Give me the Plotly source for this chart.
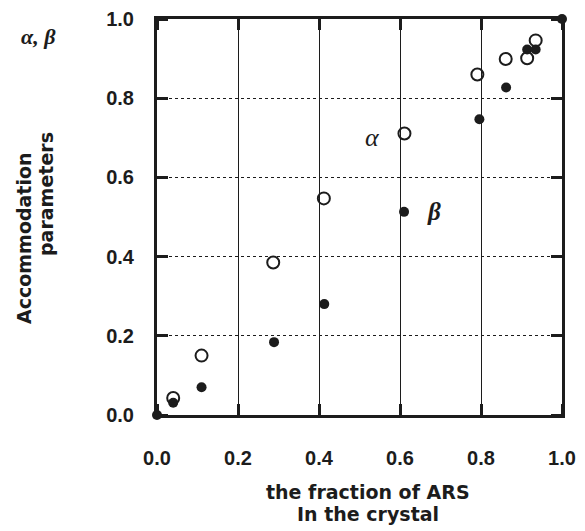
import plotly.graph_objects as go

# Data
x_alpha = [0.040, 0.110, 0.287, 0.412, 0.611, 0.791, 0.861, 0.914, 0.935]
alpha = [0.043, 0.150, 0.385, 0.547, 0.711, 0.860, 0.899, 0.901, 0.946]
x_beta = [0.0, 0.040, 0.110, 0.289, 0.413, 0.610, 0.796, 0.862, 0.914, 0.935, 1.0]
beta = [0.0, 0.031, 0.070, 0.184, 0.280, 0.513, 0.747, 0.827, 0.923, 0.923, 1.0]

tick_vals = [0.0, 0.2, 0.4, 0.6, 0.8, 1.0]
tick_text = ["0.0", "0.2", "0.4", "0.6", "0.8", "1.0"]

INK = "#1c1c1c"
TICKFONT = dict(family="Liberation Sans, Arial", size=20, color=INK)
TITLEFONT = dict(family="DejaVu Sans", size=19, color=INK)
SERIF = "Liberation Serif, Times New Roman"

W, H = 585, 531
L, R, T, B = 157, 23, 19, 116
pw, ph = W - L - R, H - T - B


def px_to_paper(px, py):
    return (px - L) / pw, 1 - (py - T) / ph


fig = go.Figure()
fig.add_trace(go.Scatter(
    x=x_beta, y=beta, mode="markers", name="β",
    marker=dict(symbol="circle", size=10, color=INK, line=dict(width=0)),
    cliponaxis=False,
))
fig.add_trace(go.Scatter(
    x=x_alpha, y=alpha, mode="markers", name="α",
    marker=dict(symbol="circle-open", size=12, color=INK, line=dict(width=2, color=INK)),
    cliponaxis=False,
))

bold_text = ["<b>%s</b>" % t for t in tick_text]
axis_common = dict(
    range=[0, 1], tickvals=tick_vals, ticktext=bold_text,
    showline=True, linewidth=3, linecolor=INK, mirror="allticks",
    ticks="outside", tickwidth=1, tickcolor="rgba(255,255,255,0)",
    minor=dict(tickvals=tick_vals, ticks="inside", ticklen=11, tickwidth=3,
               tickcolor=INK, showgrid=False),
    showgrid=True, gridcolor=INK, zeroline=False,
    tickfont=TICKFONT, automargin=False,
)

fig.update_xaxes(**axis_common, ticklen=23, gridwidth=1.2, griddash="solid")
fig.update_yaxes(**axis_common, ticklen=16, gridwidth=1, griddash="dot")

page_texts = [
    dict(text="Accommodation", px=24, py=238, angle=-90),
    dict(text="parameters", px=46, py=194, angle=-90),
    dict(text="the fraction of ARS", px=368, py=492, angle=0),
    dict(text="In the crystal", px=368, py=514, angle=0),
]
for a in page_texts:
    x, y = px_to_paper(a["px"], a["py"])
    fig.add_annotation(
        text="<b>%s</b>" % a["text"], x=x, y=y, xref="paper", yref="paper", showarrow=False,
        xanchor="center", yanchor="middle", textangle=a["angle"], font=TITLEFONT,
    )

x, y = px_to_paper(38, 36)
fig.add_annotation(text="<b><i>α, β</i></b>", x=x, y=y, xref="paper", yref="paper",
                   showarrow=False, xanchor="center", yanchor="middle",
                   font=dict(family=SERIF, size=22, color=INK))
fig.add_annotation(text="<i>α</i>", x=0.531, y=0.702, xref="x", yref="y", showarrow=False,
                   font=dict(family=SERIF, size=26, color=INK))
fig.add_annotation(text="<b><i>β</i></b>", x=0.684, y=0.513, xref="x", yref="y", showarrow=False,
                   font=dict(family=SERIF, size=25, color=INK))

fig.update_layout(
    width=W, height=H,
    margin=dict(l=L, r=R, t=T, b=B),
    paper_bgcolor="white", plot_bgcolor="white",
    showlegend=False,
)

fig.write_html("out.html")
